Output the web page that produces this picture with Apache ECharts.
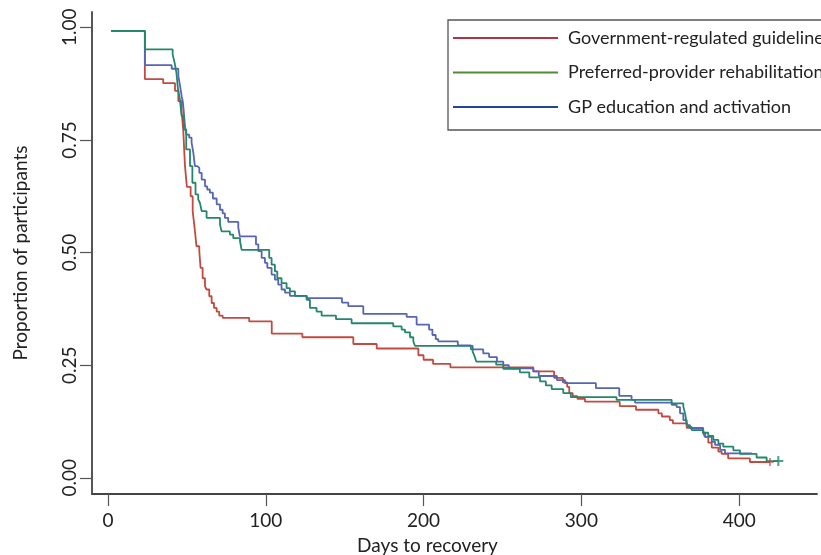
<!DOCTYPE html>
<html><head><meta charset="utf-8">
<script src="https://cdn.jsdelivr.net/npm/echarts@6/dist/echarts.min.js"></script>
<style>html,body{margin:0;padding:0;background:#fff}#c{width:821px;height:555px}</style>
</head><body><div id="c"></div>
<script>
const seriesNames = ['Government-regulated guidelines', 'Preferred-provider rehabilitation', 'GP education and activation'];
const xTicks = [0, 100, 200, 300, 400];
const yTicks = [0, 0.25, 0.5, 0.75, 1];

const govDays = [2, 23.4, 35, 42.5, 44.6, 46.7, 47.7, 48.8, 50, 52.4, 53.7, 54.9, 56.1, 57.9, 58.7, 60, 61.5, 62.5, 64.2, 65.7, 67.2, 68.9, 70.5, 72.7, 89.5, 103.8, 123.2, 155.5, 170.3, 196.7, 200, 206, 217, 269.6, 282.7, 288.3, 291, 292.3, 294.5, 297.5, 302.3, 324.3, 334.6, 348.8, 351, 356, 358, 366.7, 377, 378.5, 380.4, 382.6, 386.8, 388.9, 393, 406.8, 419.5];
const govSurv = [0.992, 0.885, 0.876, 0.859, 0.836, 0.811, 0.773, 0.693, 0.646, 0.625, 0.592, 0.555, 0.514, 0.503, 0.466, 0.443, 0.425, 0.418, 0.403, 0.388, 0.377, 0.369, 0.360, 0.355, 0.347, 0.320, 0.312, 0.297, 0.287, 0.272, 0.262, 0.253, 0.245, 0.236, 0.222, 0.212, 0.202, 0.188, 0.181, 0.175, 0.169, 0.159, 0.151, 0.143, 0.136, 0.128, 0.121, 0.111, 0.100, 0.091, 0.078, 0.067, 0.058, 0.053, 0.043, 0.035, 0.035];

const pprDays = [2, 23.4, 41, 42.2, 43.4, 44.4, 45.6, 46.7, 48.1, 49.6, 52, 53.5, 55.5, 57.2, 58.3, 59.4, 62.5, 71, 72, 77.3, 79.4, 83.7, 84.7, 102.2, 103.7, 105.8, 107.3, 110, 113.2, 115.3, 118.5, 125.9, 128, 132.2, 135.4, 144.5, 154.4, 180.8, 186.1, 188.2, 191.4, 193.5, 194.5, 231.1, 232.3, 233.4, 246, 250.5, 261, 267, 273.8, 277.5, 281.2, 288.5, 293.3, 322.3, 357.2, 364.6, 365.7, 366.7, 367.8, 369.9, 377.2, 380.4, 383.6, 386.8, 389.9, 396.3, 400.5, 411, 417.4, 424.8];
const pprSurv = [0.992, 0.951, 0.940, 0.922, 0.899, 0.862, 0.840, 0.803, 0.773, 0.729, 0.692, 0.655, 0.629, 0.618, 0.610, 0.592, 0.577, 0.562, 0.547, 0.540, 0.532, 0.525, 0.506, 0.488, 0.473, 0.458, 0.443, 0.432, 0.421, 0.414, 0.404, 0.395, 0.377, 0.369, 0.360, 0.352, 0.343, 0.336, 0.329, 0.323, 0.312, 0.303, 0.293, 0.280, 0.270, 0.258, 0.251, 0.242, 0.234, 0.223, 0.214, 0.205, 0.197, 0.188, 0.179, 0.173, 0.165, 0.158, 0.143, 0.121, 0.113, 0.106, 0.100, 0.093, 0.084, 0.076, 0.069, 0.061, 0.053, 0.045, 0.037, 0.037];

const gpDays = [2, 23.4, 40.4, 44.6, 45.7, 46.7, 47.4, 48, 48.8, 49.8, 51.5, 53, 54.1, 55.1, 56.6, 57.9, 59.4, 61.5, 62.9, 64.6, 66.5, 68.9, 71, 72.7, 74.1, 76.2, 82.6, 83.6, 93.8, 95.3, 97.4, 99.5, 101, 103.7, 105.8, 107.9, 110, 112.2, 115.3, 125.9, 148.3, 152.3, 161.8, 189.3, 195.6, 203.5, 205.6, 207.7, 209.3, 221.7, 230, 237.8, 241.5, 246.5, 250.5, 254, 269.5, 273, 284.5, 289.6, 309.2, 324, 331.8, 334, 357.2, 360.4, 362.5, 364.6, 366.7, 368.8, 377.2, 378.3, 382.6, 384.7, 387.9, 391, 408];
const gpSurv = [0.992, 0.916, 0.908, 0.892, 0.870, 0.847, 0.836, 0.815, 0.781, 0.762, 0.755, 0.744, 0.722, 0.692, 0.688, 0.677, 0.662, 0.647, 0.640, 0.633, 0.620, 0.607, 0.595, 0.587, 0.577, 0.568, 0.555, 0.536, 0.518, 0.503, 0.488, 0.477, 0.466, 0.451, 0.440, 0.429, 0.418, 0.411, 0.404, 0.399, 0.389, 0.381, 0.364, 0.357, 0.340, 0.329, 0.317, 0.308, 0.303, 0.294, 0.285, 0.276, 0.268, 0.258, 0.250, 0.243, 0.236, 0.226, 0.217, 0.210, 0.199, 0.182, 0.173, 0.167, 0.162, 0.157, 0.143, 0.128, 0.117, 0.110, 0.099, 0.091, 0.080, 0.073, 0.062, 0.054, 0.054];

const govCensorDays = [419.5];
const govCensorSurv = [0.035];
const pprCensorDays = [424.8];
const pprCensorSurv = [0.037];

const colors = ['#c24a3f', '#23876b', '#5766b4'];
const legendColors = ['#b23443', '#4f8c35', '#24458f'];
const FONT = 'Lato';

function pairs(d, s) { return d.map((t, i) => [t, s[i]]); }
const plusPath = 'path://M4,0h2v4h4v2h-4v4h-2v-4h-4v-2h4z';

const chart = echarts.init(document.getElementById('c'), null, {renderer: 'canvas'});
const lineSeries = (name, data, color, z) => ({
  name, type: 'line', step: 'end', data, symbol: 'none', z,
  lineStyle: {color, width: 1.8}, itemStyle: {color}, animation: false, silent: true
});
chart.setOption({
  animation: false,
  grid: {left: 92, right: 4, top: 12, bottom: 61, containLabel: false, outerBoundsMode: 'none'},
  xAxis: {
    type: 'value', min: -10.1, max: 449.3,
    name: 'Days to recovery', nameLocation: 'middle', nameGap: 42, nameMoveOverlap: false,
    nameTextStyle: {fontFamily: FONT, fontSize: 19, color: '#222', padding: [0, 54, 0, 0]},
    axisLine: {show: true, onZero: false, lineStyle: {color: '#444', width: 1.8}},
    axisTick: {show: true, customValues: xTicks, length: 12, lineStyle: {color: '#555', width: 1.2}},
    axisLabel: {show: true, customValues: xTicks, margin: 17, fontFamily: FONT, fontSize: 19, color: '#222'},
    splitLine: {show: false}
  },
  yAxis: {
    type: 'value', min: -0.036, max: 1.034,
    name: 'Proportion of participants', nameLocation: 'middle', nameGap: 62, nameMoveOverlap: false,
    nameTextStyle: {fontFamily: FONT, fontSize: 19, color: '#222'},
    axisLine: {show: true, onZero: false, lineStyle: {color: '#444', width: 1.8}},
    axisTick: {show: true, customValues: yTicks, length: 12, lineStyle: {color: '#555', width: 1.2}},
    axisLabel: {show: true, customValues: yTicks, rotate: 90, margin: 13, fontFamily: FONT, fontSize: 19, color: '#222',
      formatter: v => v.toFixed(2)},
    splitLine: {show: false}
  },
  legend: {
    orient: 'vertical', left: 448, top: 20,
    data: seriesNames.map((n, i) => ({name: n, itemStyle: {opacity: 0, borderWidth: 0}, lineStyle: {color: legendColors[i], width: 2}})),
    itemWidth: 105, itemHeight: 14, itemGap: 16.5,
    padding: [9, 40, 14, 4],
    borderColor: '#555', borderWidth: 1.3,
    textStyle: {fontFamily: FONT, fontSize: 18, color: '#222', padding: [0, 0, 0, 5]},
    selectedMode: false
  },
  series: [
    lineSeries(seriesNames[0], pairs(govDays, govSurv), colors[0], 2),
    lineSeries(seriesNames[2], pairs(gpDays, gpSurv), colors[2], 3),
    lineSeries(seriesNames[1], pairs(pprDays, pprSurv), colors[1], 4),
    {type: 'scatter', data: pairs(govCensorDays, govCensorSurv), symbol: plusPath, symbolSize: 8, itemStyle: {color: colors[0]}, z: 5, silent: true},
    {type: 'scatter', data: pairs(pprCensorDays, pprCensorSurv), symbol: plusPath, symbolSize: 10, itemStyle: {color: colors[1]}, z: 6, silent: true}
  ]
});
</script></body></html>
